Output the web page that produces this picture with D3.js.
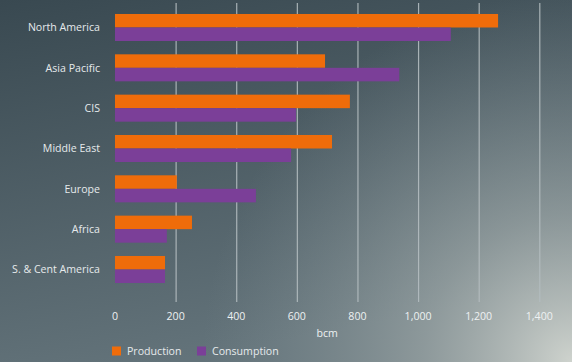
<!DOCTYPE html>
<html><head><meta charset="utf-8">
<script src="https://cdn.jsdelivr.net/npm/d3@7"></script>
<style>html,body{margin:0;padding:0;overflow:hidden;}svg{display:block;}</style>
</head><body>
<script>
const categories = ["North America","Asia Pacific","CIS","Middle East","Europe","Africa","S. & Cent America"];
const production = [1264, 693, 775, 716, 204, 254, 165];
const consumption = [1108, 938, 597, 581, 465, 171, 165];
const tickValues = [0,200,400,600,800,1000,1200,1400];
const seriesNames = ["Production","Consumption"];
const colors = ["#ef6c0a","#7b3f98"];

const W = 572, H = 362;
const svg = d3.select("body").append("svg").attr("width",W).attr("height",H);
const defs = svg.append("defs");
const lg = defs.append("linearGradient").attr("id","bg").attr("x1",0).attr("y1",0).attr("x2",0.3).attr("y2",1);
lg.append("stop").attr("offset","0").attr("stop-color","#394951");
lg.append("stop").attr("offset","1").attr("stop-color","#63737a");
const rg = defs.append("radialGradient").attr("id","glow").attr("gradientUnits","userSpaceOnUse")
  .attr("cx",W).attr("cy",H).attr("r",370);
rg.append("stop").attr("offset","0").attr("stop-color","#d4d8d2").attr("stop-opacity",0.95);
rg.append("stop").attr("offset","0.4").attr("stop-color","#b0b8b6").attr("stop-opacity",0.55);
rg.append("stop").attr("offset","1").attr("stop-color","#8a989c").attr("stop-opacity",0);
svg.append("rect").attr("width",W).attr("height",H).attr("fill","url(#bg)");
svg.append("rect").attr("width",W).attr("height",H).attr("fill","url(#glow)");

const x = d3.scaleLinear().domain([0,1400]).range([115,539.3]);
const y = d3.scaleBand().domain(categories).range([7.33,289.66]).paddingInner(0.33).paddingOuter(0.165);
const sub = d3.scaleBand().domain(seriesNames).range([0,y.bandwidth()]);

// gridlines
svg.append("g").selectAll("line").data(tickValues.filter(d=>d>0)).join("line")
  .attr("x1",d=>x(d)+0.5).attr("x2",d=>x(d)+0.5).attr("y1",3).attr("y2",302)
  .attr("stroke","#b4bcc0").attr("stroke-width",1.2).attr("stroke-opacity",0.9);

const font = "'Open Sans', sans-serif";
const fs = "10.6px";
const series = [production, consumption];
series.forEach((vals,si)=>{
  svg.append("g").selectAll("rect").data(categories).join("rect")
    .attr("x",x(0)).attr("y",(d)=>y(d)+sub(seriesNames[si]))
    .attr("width",(d,i)=>x(vals[i])-x(0)).attr("height",sub.bandwidth())
    .attr("fill",colors[si]);
});

// category labels
svg.append("g").selectAll("text").data(categories).join("text")
  .attr("x",100).attr("y",d=>y(d)+y.bandwidth()/2+4)
  .attr("text-anchor","end").attr("fill","#e6eaec")
  .style("font-family",font).style("font-size",fs).text(d=>d);

// x tick labels
const fmt = d3.format(",");
svg.append("g").selectAll("text").data(tickValues).join("text")
  .attr("x",d=>x(d)).attr("y",320).attr("text-anchor","middle").attr("fill","#eef1f2")
  .style("font-family",font).style("font-size",fs).text(d=>fmt(d));

svg.append("text").attr("x",(x(0)+x(1400))/2).attr("y",337).attr("text-anchor","middle")
  .attr("fill","#eef1f2").style("font-family",font).style("font-size",fs).text("bcm");

// legend
const legX = [112,197];
seriesNames.forEach((n,i)=>{
  svg.append("rect").attr("x",legX[i]).attr("y",346.5).attr("width",9).attr("height",9).attr("fill",colors[i]);
  svg.append("text").attr("x",legX[i]+15).attr("y",355).attr("fill","#e6eaec")
    .style("font-family",font).style("font-size",fs).text(n);
});
</script>
</body></html>
